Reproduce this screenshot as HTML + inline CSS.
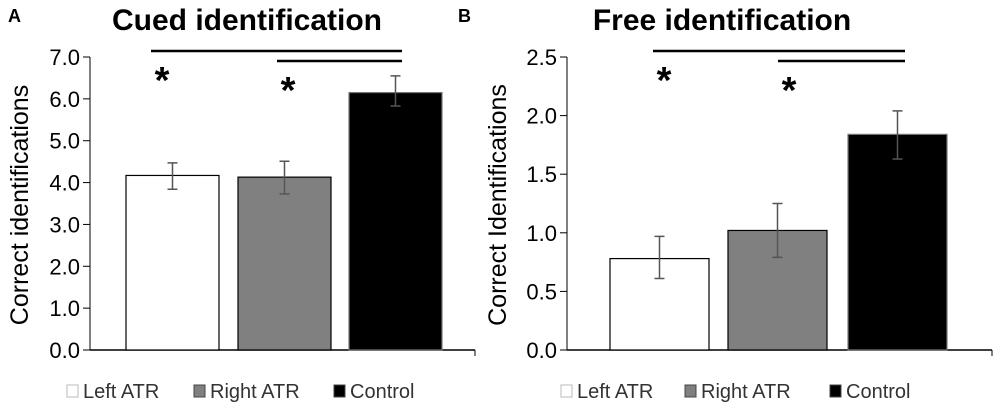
<!DOCTYPE html>
<html><head><meta charset="utf-8"><style>
body{margin:0;background:#fff}
svg text{font-family:"Liberation Sans",sans-serif}
</style></head><body>
<svg width="1000" height="412" viewBox="0 0 1000 412" id="chart"></svg>
<script>
const categories=["Left ATR","Right ATR","Control"];
const cuedValues=[4.17,4.13,6.15];
const cuedErrHi=[4.47,4.51,6.55];
const cuedErrLo=[3.84,3.73,5.83];
const cuedTicks=["0.0","1.0","2.0","3.0","4.0","5.0","6.0","7.0"];
const freeValues=[0.78,1.02,1.84];
const freeErrHi=[0.97,1.25,2.04];
const freeErrLo=[0.61,0.79,1.63];
const freeTicks=["0.0","0.5","1.0","1.5","2.0","2.5"];
const fills=["#ffffff","#808080","#000000"];
const NS="http://www.w3.org/2000/svg";
const svg=document.getElementById('chart');
function mk(tag,attrs,parent){const e=document.createElementNS(NS,tag);for(const k in attrs)e.setAttribute(k,attrs[k]);(parent||svg).appendChild(e);return e;}
function panel(cfg){
  const g=mk('g',{});
  
  
  const y0=350,y1=57,max=cfg.max;
  const y=v=>y0-(v/max)*(y0-y1);
  const ax=cfg.ax;
  const xAxis=mk('line',{x1:ax,y1:y0,x2:cfg.axEnd,y2:y0,stroke:'#000','stroke-width':1.5},g);
  
  
  mk('line',{x1:cfg.axEnd,y1:y0,x2:cfg.axEnd,y2:y0+6,stroke:'#000','stroke-width':1},g);
  const yAxis=mk('line',{x1:ax,y1:y1,x2:ax,y2:y0,stroke:'#000','stroke-width':1},g);
  
  
  cfg.ticks.forEach(t=>{
    const v=parseFloat(t);
    mk('line',{x1:ax-7,y1:y(v),x2:ax,y2:y(v),stroke:'#000','stroke-width':1},g);
    const tx=mk('text',{x:ax-10,y:y(v)+8,'text-anchor':'end','font-size':22,fill:'#000'},g);
    tx.textContent=t;
    
    
  });
  const yt=mk('text',{x:0,y:0,'text-anchor':'middle','font-size':25,transform:`translate(${cfg.ytx},205) rotate(-90)`},g);
  yt.textContent=cfg.ytitle;
  
  
  const ti=mk('text',{x:cfg.tx,y:30,'text-anchor':'middle','font-size':30,'font-weight':'bold'},g);
  ti.textContent=cfg.title;
  
  
  const lb=mk('text',{x:cfg.lx,y:22,'font-size':18,'font-weight':'bold'},g);
  lb.textContent=cfg.label;
  
  
  cfg.values.forEach((v,i)=>{
    const bx=cfg.bx[i],bw=cfg.bw;
    const r=mk('rect',{x:bx,y:y(v),width:bw,height:y0-y(v),fill:fills[i],stroke:i==2?'#777':'#000','stroke-width':1.2},g);
    
    
    const cx=bx+bw/2;
    const e=mk('path',{d:`M${cx},${y(cfg.hi[i])}V${y(cfg.lo[i])}M${cx-5},${y(cfg.hi[i])}H${cx+5}M${cx-5},${y(cfg.lo[i])}H${cx+5}`,stroke:'#555','stroke-width':1.5,fill:'none'},g);
    
    
  });
  cfg.sig.forEach(s=>{
    const l=mk('line',{x1:s[0],y1:s[2],x2:s[1],y2:s[2],stroke:'#000','stroke-width':2.5},g);
    
    
    const a=mk('text',{x:s[0]+11,y:s[2]+42,'text-anchor':'middle','font-size':38,'font-weight':'bold'},g);
    a.textContent='*';
    
    
  });
  categories.forEach((c,i)=>{
    const lx=cfg.leg[i];
    const sq=mk('rect',{x:lx,y:385,width:11,height:12,fill:fills[i],stroke:i==0?'#bbb':'#444','stroke-width':1},g);
    
    
    const t=mk('text',{x:lx+16,y:398,'font-size':20,fill:'#333'},g);
    t.textContent=c;
    
    
  });
}
panel({name:'panel-a-cued',max:7,ax:90,axEnd:475,ticks:cuedTicks,values:cuedValues,hi:cuedErrHi,lo:cuedErrLo,
  bx:[126,238,349],bw:93,ytx:28,ytitle:'Correct identifications',tx:247,title:'Cued identification',lx:8,label:'A',
  sig:[[151,402,51],[277,402,61]],leg:[67,194,334]});
panel({name:'panel-b-free',max:2.5,ax:567,axEnd:992,ticks:freeTicks,values:freeValues,hi:freeErrHi,lo:freeErrLo,
  bx:[610,728,848],bw:99,ytx:506,ytitle:'Correct Identifications',tx:722,title:'Free identification',lx:458,label:'B',
  sig:[[653,905,51],[778,905,61]],leg:[561,685,830]});
</script>
</body></html>
